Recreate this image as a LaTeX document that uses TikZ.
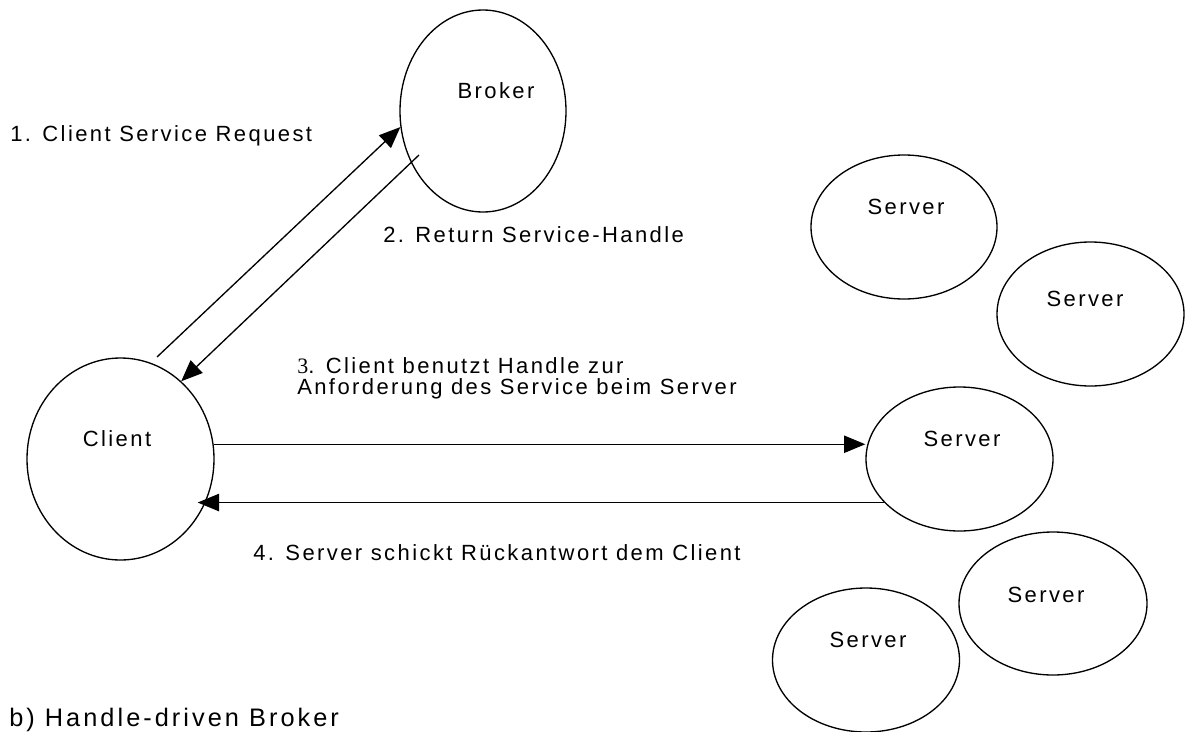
\documentclass[tikz,border=0pt]{standalone}
\usepackage{fontspec}
\setmainfont{Liberation Sans}[LetterSpace=11]
\newfontfamily\serifdigit{Liberation Serif}[LetterSpace=11]
\newfontfamily\capfont{Liberation Sans}[LetterSpace=12]
\usetikzlibrary{shapes.geometric,arrows.meta,calc}
\tikzset{
  oval/.style={ellipse, draw, line width=1pt, inner sep=0pt},
  txt/.style={inner sep=0pt, anchor=base west, font=\fontsize{16.5}{17}\selectfont},
  ctxt/.style={inner sep=0pt, anchor=base, font=\fontsize{16.5}{17}\selectfont},
  arr/.style={line width=1pt, -{Triangle[length=16pt,width=13pt]}},
}
\begin{document}
\begin{tikzpicture}[x=0.75pt,y=-0.75pt]
\fill[white] (0,0) rectangle (1186,732);
\useasboundingbox (0,0) rectangle (1186,732);
% ovals
\node[oval, minimum width=166*0.75pt, minimum height=202*0.75pt] (broker) at (483,111) {};
\node[oval, minimum width=187*0.75pt, minimum height=202*0.75pt] (client) at (120.5,459) {};
\node[oval, minimum width=186*0.75pt, minimum height=144*0.75pt] (s1) at (904,227) {};
\node[oval, minimum width=187*0.75pt, minimum height=144*0.75pt] (s2) at (1090.5,314) {};
\node[oval, minimum width=187*0.75pt, minimum height=144*0.75pt] (s3) at (959.5,459) {};
\node[oval, minimum width=188*0.75pt, minimum height=143*0.75pt] (s4) at (1053,603.5) {};
\node[oval, minimum width=187*0.75pt, minimum height=144*0.75pt] (s5) at (866,660) {};
% oval labels
\node[ctxt] (brokert) at (496,98) {Broker};
\node[ctxt] (clientt) at (117,446) {Client};
\node[ctxt] (s1t) at (906,214) {Server};
\node[ctxt] (s2t) at (1085,306) {Server};
\node[ctxt] (s3t) at (962,446) {Server};
\node[ctxt] (s4t) at (1046,602) {Server};
\node[ctxt] (s5t) at (868,647) {Server};
% connector end points
\coordinate (a1s) at ($(client.center)+(36.5,-102)$);
\coordinate (a2s) at ($(broker.center)+(-64,44)$);
\coordinate (a4e) at ($(s3.210 -| client.east)+(-17,0)$);
% connectors
\draw[arr] (a1s) -- (broker.191);
\draw[arr] (a2s) -- (client.52);
\draw[arr] (client.9) -- (client.9 -| s3.west);
\draw[arr] (s3.210) -- (a4e);
% connector labels
\node[txt] (l1) at (10,141) {1. Client Service Request};
\node[txt] (l2) at (383,242) {2. Return Service-Handle};
\node[txt] (l3a) at (297,373) {{\serifdigit 3}. Client benutzt Handle zur};
\node[txt] (l3b) at (297,394) {Anforderung des Service beim Server};
\node[txt] (l4) at (253,560) {4. Server schickt Rückantwort dem Client};
\node[inner sep=0pt, anchor=base west, font=\capfont\fontsize{19}{20}\selectfont] (cap) at (9,726) {b) Handle-driven Broker};
\end{tikzpicture}
\end{document}
